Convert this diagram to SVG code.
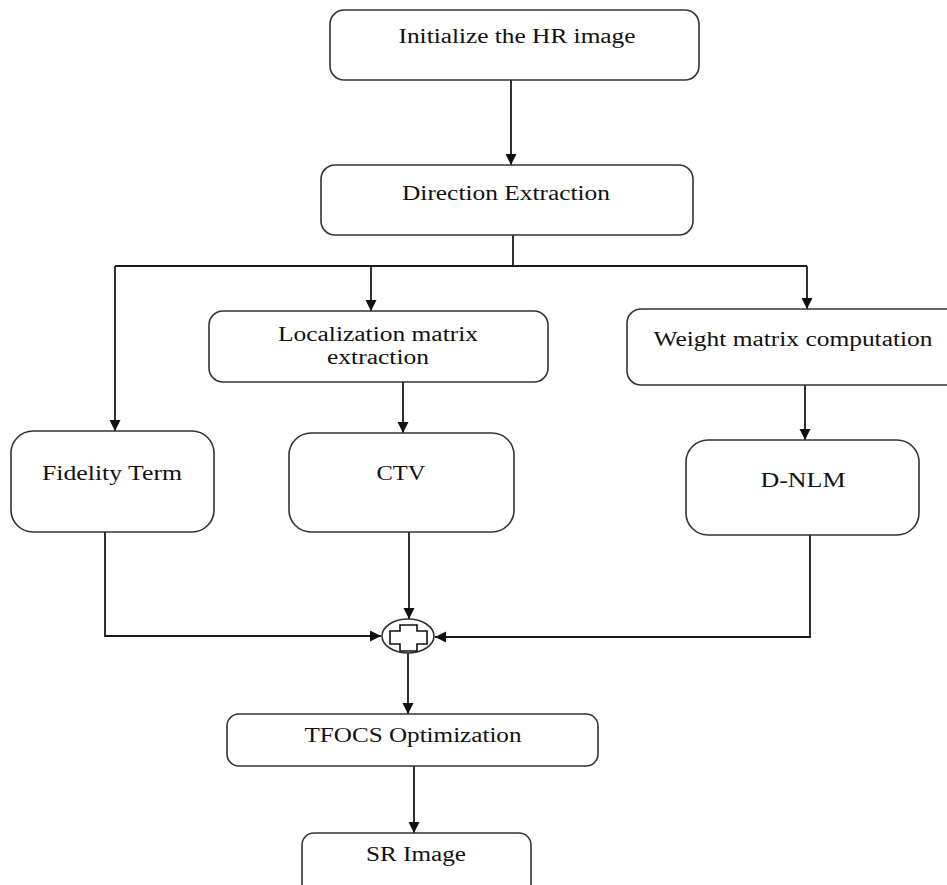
<svg xmlns="http://www.w3.org/2000/svg" width="947" height="885" viewBox="0 0 947 885">
<style>
.box{fill:#fff;stroke:#333;stroke-width:1.6}
.lbl{font-family:"Liberation Serif","Times New Roman",serif;font-size:20px;fill:#111;text-anchor:middle}
.ln{fill:none;stroke:#1a1a1a;stroke-width:1.8}
</style>
<defs>
<marker id="ah" markerUnits="userSpaceOnUse" markerWidth="12" markerHeight="12" refX="11" refY="5.5" orient="auto">
<path d="M0,0 L11,5.5 L0,11 z" fill="#111"/>
</marker>
</defs>
<rect width="947" height="885" fill="#fff"/>
<g id="connectors">
<path class="ln" d="M511,80 V165" marker-end="url(#ah)"/>
<path class="ln" d="M513,235 V266"/>
<path class="ln" d="M115,266 H807"/>
<path class="ln" d="M115,266 V431" marker-end="url(#ah)"/>
<path class="ln" d="M371,266 V311" marker-end="url(#ah)"/>
<path class="ln" d="M807,266 V309" marker-end="url(#ah)"/>
<path class="ln" d="M403,382 V433" marker-end="url(#ah)"/>
<path class="ln" d="M805,385 V440" marker-end="url(#ah)"/>
<path class="ln" d="M105,532 V636 H381" marker-end="url(#ah)"/>
<path class="ln" d="M409,532 V619" marker-end="url(#ah)"/>
<path class="ln" d="M810,535 V637 H435" marker-end="url(#ah)"/>
<path class="ln" d="M408,653 V714" marker-end="url(#ah)"/>
<path class="ln" d="M414,766 V833" marker-end="url(#ah)"/>
</g>
<g id="n-init">
<rect class="box" x="330" y="10" width="369" height="70" rx="14"/>
<text class="lbl" x="517" y="43" textLength="237" lengthAdjust="spacingAndGlyphs">Initialize the HR image</text>
</g>
<g id="n-direction">
<rect class="box" x="321" y="165" width="372" height="70" rx="14"/>
<text class="lbl" x="506" y="200" textLength="208" lengthAdjust="spacingAndGlyphs">Direction Extraction</text>
</g>
<g id="n-localization">
<rect class="box" x="209" y="311" width="339" height="71" rx="14"/>
<text class="lbl" x="378" y="341" textLength="200" lengthAdjust="spacingAndGlyphs">Localization matrix</text>
<text class="lbl" x="378" y="364" textLength="102" lengthAdjust="spacingAndGlyphs">extraction</text>
</g>
<g id="n-weight">
<rect class="box" x="627" y="309" width="335" height="76" rx="14"/>
<text class="lbl" x="793" y="346" textLength="279" lengthAdjust="spacingAndGlyphs">Weight matrix computation</text>
</g>
<g id="n-fidelity">
<rect class="box" x="11" y="431" width="203" height="101" rx="22"/>
<text class="lbl" x="112" y="480" textLength="140" lengthAdjust="spacingAndGlyphs">Fidelity Term</text>
</g>
<g id="n-ctv">
<rect class="box" x="289" y="433" width="225" height="99" rx="22"/>
<text class="lbl" x="401" y="480" textLength="49" lengthAdjust="spacingAndGlyphs">CTV</text>
</g>
<g id="n-dnlm">
<rect class="box" x="686" y="440" width="233" height="95" rx="22"/>
<text class="lbl" x="803" y="487" textLength="85" lengthAdjust="spacingAndGlyphs">D-NLM</text>
</g>
<g id="n-sum">
<ellipse cx="408" cy="636" rx="26" ry="17" fill="#fff" stroke="#333" stroke-width="1.6"/>
<path d="M400,625 H417 V631 H427 V644 H417 V651 H400 V644 H390 V631 H400 Z" fill="#fff" stroke="#111" stroke-width="1.6"/>
</g>
<g id="n-tfocs">
<rect class="box" x="227" y="714" width="371" height="52" rx="12"/>
<text class="lbl" x="413" y="742" textLength="217" lengthAdjust="spacingAndGlyphs">TFOCS Optimization</text>
</g>
<g id="n-sr">
<rect class="box" x="302" y="833" width="229" height="70" rx="12"/>
<text class="lbl" x="416" y="861" textLength="100" lengthAdjust="spacingAndGlyphs">SR Image</text>
</g>
</svg>
